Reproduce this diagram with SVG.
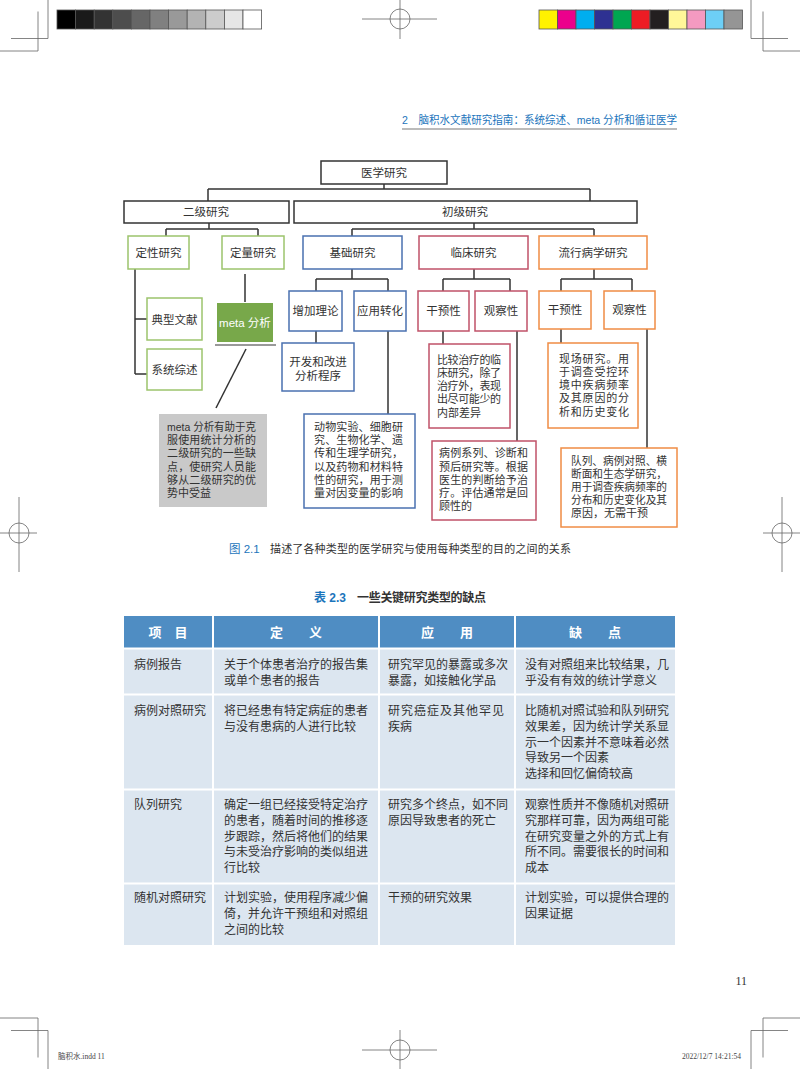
<svg xmlns="http://www.w3.org/2000/svg" width="800" height="1069" viewBox="0 0 800 1069">
<style>
.mk{stroke:#666;stroke-width:0.8;fill:none}
.t{font-family:"Liberation Sans","Noto Sans CJK SC",sans-serif;fill:#333;font-size:11.5px}
.s{font-size:11px}
.c{text-anchor:middle}
.bx{fill:#fff;stroke-width:1.5}
.k{stroke:#333}
.g{stroke:#9cc46c}
.b{stroke:#4a70b0}
.r{stroke:#c05268}
.o{stroke:#f08c44}
.ln{stroke:#333;stroke-width:1.5;fill:none}
.tb{font-family:"Liberation Serif","Noto Sans CJK SC",serif;fill:#333;font-size:12px}
.th{font-family:"Liberation Sans","Noto Sans CJK SC",sans-serif;fill:#fff;font-size:13px;font-weight:bold;text-anchor:middle}
.bl{fill:#1c75bc}
</style>
<rect width="800" height="1069" fill="#fff"/>
<!-- printer marks -->
<g id="marks">
<g stroke="#555" stroke-width="0.8">
<rect x="57" y="10" width="18.6" height="19" fill="#000"/>
<rect x="75.6" y="10" width="18.6" height="19" fill="#1a1a1a"/>
<rect x="94.2" y="10" width="18.6" height="19" fill="#333"/>
<rect x="112.8" y="10" width="18.6" height="19" fill="#4d4d4d"/>
<rect x="131.4" y="10" width="18.6" height="19" fill="#666"/>
<rect x="150" y="10" width="18.6" height="19" fill="#808080"/>
<rect x="168.6" y="10" width="18.6" height="19" fill="#999"/>
<rect x="187.2" y="10" width="18.6" height="19" fill="#b3b3b3"/>
<rect x="205.8" y="10" width="18.6" height="19" fill="#ccc"/>
<rect x="224.4" y="10" width="18.6" height="19" fill="#e6e6e6"/>
<rect x="243" y="10" width="18.6" height="19" fill="#fff"/>
<rect x="539" y="10" width="18.5" height="19" fill="#fff200"/>
<rect x="557.5" y="10" width="18.5" height="19" fill="#ec008c"/>
<rect x="576" y="10" width="18.5" height="19" fill="#00aeef"/>
<rect x="594.5" y="10" width="18.5" height="19" fill="#2e3192"/>
<rect x="613" y="10" width="18.5" height="19" fill="#00a651"/>
<rect x="631.5" y="10" width="18.5" height="19" fill="#ed1c24"/>
<rect x="650" y="10" width="18.5" height="19" fill="#231f20"/>
<rect x="668.5" y="10" width="18.5" height="19" fill="#fff799"/>
<rect x="687" y="10" width="18.5" height="19" fill="#f49ac1"/>
<rect x="705.5" y="10" width="18.5" height="19" fill="#6dcff6"/>
<rect x="724" y="10" width="18.5" height="19" fill="#959595"/>
</g>
<path class="mk" d="M48 0V38.5H11M38 11.5V51H0M751 0V38.5H788M763 11.5V51H800M0 1018H38V1057.5M11 1030.5H48V1069M800 1018H763V1057.5M788 1030.5H751V1069"/>
<path class="mk" d="M362 19H437M400 0V39M362 1050H437M400 1030V1069M0 533H37M19 497V572M763 533H800M782 497V572"/>
<circle class="mk" cx="400" cy="19" r="10"/>
<circle class="mk" cx="400" cy="1050" r="10"/>
<circle class="mk" cx="19" cy="533" r="10"/>
<circle class="mk" cx="782" cy="533" r="10"/>
</g>
<!-- running head -->
<g id="header">
<text x="402" y="124" class="t bl" style="font-size:11px;fill:#1c75bc" textLength="275" lengthAdjust="spacingAndGlyphs">2　脑积水文献研究指南：系统综述、meta 分析和循证医学</text>
<line x1="402" y1="129" x2="677" y2="129" stroke="#bbb" stroke-width="2"/>
</g>
<!-- connectors -->
<g id="connectors">
<path class="ln" d="M384 184V189M208 189H590M208 189V201M590 189V201"/>
<path class="ln" d="M209 223V229M166 229H258M166 229V236M258 229V236"/>
<path class="ln" d="M474 223V229M352 229H594M352 229V236M594 229V236"/>
<path class="ln" d="M135 269V374M135 319H147M135 374H147"/>
<path class="ln" d="M245 274V302"/>
<path class="ln" d="M246 349L216 408"/>
<path class="ln" d="M352 269V279M316 279H388M316 279V291M388 279V291M316 331V343M388 331V414"/>
<path class="ln" d="M474 269V279M443 279H510M443 279V291M510 279V291M443 331V344M517 331V441"/>
<path class="ln" d="M594 269V279M561 279H632M561 279V291M632 279V291M561 329V343M647 329V448"/>
</g>
<!-- nodes -->
<g id="n-medical"><rect class="bx k" x="321" y="161" width="126" height="23"/><text class="t c" x="384" y="176.5">医学研究</text></g>
<g id="n-secondary"><rect class="bx k" x="124" y="201" width="165" height="22"/><text class="t c" x="206" y="216">二级研究</text></g>
<g id="n-primary"><rect class="bx k" x="294" y="201" width="343" height="22"/><text class="t c" x="465" y="216">初级研究</text></g>
<g id="n-qual"><rect class="bx g" x="128" y="236" width="61" height="33"/><text class="t c" x="158.5" y="257">定性研究</text></g>
<g id="n-quant"><rect class="bx g" x="222" y="236" width="62" height="33"/><text class="t c" x="253" y="257">定量研究</text></g>
<g id="n-basic"><rect class="bx b" x="303" y="236" width="99" height="33"/><text class="t c" x="352.5" y="257">基础研究</text></g>
<g id="n-clinical"><rect class="bx r" x="419" y="236" width="109" height="33"/><text class="t c" x="473.5" y="257">临床研究</text></g>
<g id="n-epi"><rect class="bx o" x="539" y="236" width="108" height="33"/><text class="t c" x="593" y="257">流行病学研究</text></g>
<g id="n-typical"><rect class="bx g" x="147" y="298" width="55" height="42"/><text class="t c" x="174.5" y="323.5">典型文献</text></g>
<g id="n-sysrev"><rect class="bx g" x="147" y="349" width="55" height="41"/><text class="t c" x="174.5" y="374">系统综述</text></g>
<g id="n-meta"><rect x="217" y="303" width="56" height="39" fill="#78a84a"/><text class="t c" x="245" y="326.5" style="fill:#fff">meta 分析</text><line x1="215" y1="345" x2="276" y2="345" stroke="#999" stroke-width="2"/></g>
<g id="n-metanote"><rect x="159" y="414" width="108" height="93" fill="#c9c9c9"/>
<text class="t s" x="167" y="431" textLength="89" lengthAdjust="spacingAndGlyphs">meta 分析有助于克</text>
<text class="t s" x="167" y="444" textLength="89" lengthAdjust="spacing">服使用统计分析的</text>
<text class="t s" x="167" y="457" textLength="89" lengthAdjust="spacing">二级研究的一些缺</text>
<text class="t s" x="167" y="471" textLength="89" lengthAdjust="spacing">点，使研究人员能</text>
<text class="t s" x="167" y="484" textLength="89" lengthAdjust="spacing">够从二级研究的优</text>
<text class="t s" x="167" y="497">势中受益</text></g>
<g id="n-theory"><rect class="bx b" x="289" y="291" width="53" height="40"/><text class="t c" x="315.5" y="315">增加理论</text></g>
<g id="n-applied"><rect class="bx b" x="354" y="291" width="52" height="40"/><text class="t c" x="380" y="315">应用转化</text></g>
<g id="n-develop"><rect class="bx b" x="282" y="343" width="72" height="48"/><text class="t c" x="318" y="366">开发和改进</text><text class="t c" x="318" y="380">分析程序</text></g>
<g id="n-basicnote"><rect class="bx b" x="304" y="414" width="111" height="94"/>
<text class="t s" x="314" y="431" textLength="89" lengthAdjust="spacing">动物实验、细胞研</text>
<text class="t s" x="314" y="444" textLength="89" lengthAdjust="spacing">究、生物化学、遗</text>
<text class="t s" x="314" y="457" textLength="89" lengthAdjust="spacing">传和生理学研究，</text>
<text class="t s" x="314" y="471" textLength="89" lengthAdjust="spacing">以及药物和材料特</text>
<text class="t s" x="314" y="484" textLength="89" lengthAdjust="spacing">性的研究，用于测</text>
<text class="t s" x="314" y="497" textLength="89" lengthAdjust="spacing">量对因变量的影响</text></g>
<g id="n-cl-int"><rect class="bx r" x="418" y="291" width="51" height="40"/><text class="t c" x="443.5" y="315">干预性</text></g>
<g id="n-cl-obs"><rect class="bx r" x="475" y="291" width="52" height="40"/><text class="t c" x="501" y="315">观察性</text></g>
<g id="n-cl-intnote"><rect class="bx r" x="429" y="344" width="81" height="84"/>
<text class="t s" x="437" y="364" textLength="64" lengthAdjust="spacing">比较治疗的临</text>
<text class="t s" x="437" y="377" textLength="64" lengthAdjust="spacing">床研究，除了</text>
<text class="t s" x="437" y="390" textLength="64" lengthAdjust="spacing">治疗外，表现</text>
<text class="t s" x="437" y="403" textLength="64" lengthAdjust="spacing">出尽可能少的</text>
<text class="t s" x="437" y="417">内部差异</text></g>
<g id="n-cl-obsnote"><rect class="bx r" x="432" y="441" width="104" height="79"/>
<text class="t s" x="439" y="457" textLength="89" lengthAdjust="spacing">病例系列、诊断和</text>
<text class="t s" x="439" y="471" textLength="89" lengthAdjust="spacing">预后研究等。根据</text>
<text class="t s" x="439" y="484" textLength="89" lengthAdjust="spacing">医生的判断给予治</text>
<text class="t s" x="439" y="497" textLength="89" lengthAdjust="spacing">疗。评估通常是回</text>
<text class="t s" x="439" y="510">顾性的</text></g>
<g id="n-ep-int"><rect class="bx o" x="539" y="291" width="52" height="38"/><text class="t c" x="565" y="314">干预性</text></g>
<g id="n-ep-obs"><rect class="bx o" x="604" y="291" width="51" height="38"/><text class="t c" x="629.5" y="314">观察性</text></g>
<g id="n-ep-intnote"><rect class="bx o" x="548" y="343" width="90" height="85"/>
<text class="t s" x="559" y="363" textLength="70" lengthAdjust="spacing">现场研究。用</text>
<text class="t s" x="559" y="376" textLength="70" lengthAdjust="spacing">于调查受控环</text>
<text class="t s" x="559" y="389" textLength="70" lengthAdjust="spacing">境中疾病频率</text>
<text class="t s" x="559" y="402" textLength="70" lengthAdjust="spacing">及其原因的分</text>
<text class="t s" x="559" y="416" textLength="70" lengthAdjust="spacing">析和历史变化</text></g>
<g id="n-ep-obsnote"><rect class="bx o" x="561" y="448" width="116" height="79"/>
<text class="t s" x="571" y="465" textLength="96" lengthAdjust="spacingAndGlyphs">队列、病例对照、横</text>
<text class="t s" x="571" y="478" textLength="96" lengthAdjust="spacingAndGlyphs">断面和生态学研究，</text>
<text class="t s" x="571" y="491" textLength="96" lengthAdjust="spacingAndGlyphs">用于调查疾病频率的</text>
<text class="t s" x="571" y="504" textLength="96" lengthAdjust="spacingAndGlyphs">分布和历史变化及其</text>
<text class="t s" x="571" y="517">原因，无需干预</text></g>
<!-- captions -->
<g id="caption">
<text class="t" x="229" y="553" style="font-size:11.5px;fill:#1c75bc">图 2.1</text>
<text class="t" x="270" y="553" style="font-size:11px" textLength="301" lengthAdjust="spacing">描述了各种类型的医学研究与使用每种类型的目的之间的关系</text>
<text class="t" x="314" y="602" style="font-size:12px;fill:#1c75bc;font-weight:bold">表 2.3</text>
<text class="t" x="357" y="602" style="font-size:12px;font-weight:bold" textLength="129" lengthAdjust="spacing">一些关键研究类型的缺点</text>
</g>
<!-- table -->
<g id="table">
<rect x="124" y="616" width="551" height="32" fill="#4f8dc3"/>
<rect x="124" y="648" width="551" height="297" fill="#dce6f0"/>
<g stroke="#fff" stroke-width="2">
<line x1="213" y1="616" x2="213" y2="945"/>
<line x1="379" y1="616" x2="379" y2="945"/>
<line x1="515" y1="616" x2="515" y2="945"/>
<line x1="124" y1="648.5" x2="675" y2="648.5"/>
<line x1="124" y1="694.5" x2="675" y2="694.5"/>
<line x1="124" y1="789.5" x2="675" y2="789.5"/>
<line x1="124" y1="883.5" x2="675" y2="883.5"/>
</g>
<text class="th" x="168" y="637">项　目</text>
<text class="th" x="296" y="637">定　　义</text>
<text class="th" x="447" y="637">应　　用</text>
<text class="th" x="595" y="637">缺　　点</text>
<g class="tb">
<text x="134" y="669">病例报告</text>
<text x="224" y="669">关于个体患者治疗的报告集</text>
<text x="224" y="685">或单个患者的报告</text>
<text x="388" y="669">研究罕见的暴露或多次</text>
<text x="388" y="685">暴露，如接触化学品</text>
<text x="525" y="669">没有对照组来比较结果，几</text>
<text x="525" y="685">乎没有有效的统计学意义</text>

<text x="134" y="715">病例对照研究</text>
<text x="224" y="715">将已经患有特定病症的患者</text>
<text x="224" y="731">与没有患病的人进行比较</text>
<text x="388" y="715" textLength="116" lengthAdjust="spacing">研究癌症及其他罕见</text>
<text x="388" y="731">疾病</text>
<text x="525" y="715">比随机对照试验和队列研究</text>
<text x="525" y="731">效果差，因为统计学关系显</text>
<text x="525" y="747">示一个因素并不意味着必然</text>
<text x="525" y="762">导致另一个因素</text>
<text x="525" y="778">选择和回忆偏倚较高</text>

<text x="134" y="809">队列研究</text>
<text x="224" y="809">确定一组已经接受特定治疗</text>
<text x="224" y="825">的患者，随着时间的推移逐</text>
<text x="224" y="841">步跟踪，然后将他们的结果</text>
<text x="224" y="856">与未受治疗影响的类似组进</text>
<text x="224" y="872">行比较</text>
<text x="388" y="809">研究多个终点，如不同</text>
<text x="388" y="825">原因导致患者的死亡</text>
<text x="525" y="809">观察性质并不像随机对照研</text>
<text x="525" y="825">究那样可靠，因为两组可能</text>
<text x="525" y="841">在研究变量之外的方式上有</text>
<text x="525" y="856">所不同。需要很长的时间和</text>
<text x="525" y="872">成本</text>

<text x="134" y="902">随机对照研究</text>
<text x="224" y="902">计划实验，使用程序减少偏</text>
<text x="224" y="918">倚，并允许干预组和对照组</text>
<text x="224" y="934">之间的比较</text>
<text x="388" y="902">干预的研究效果</text>
<text x="525" y="902">计划实验，可以提供合理的</text>
<text x="525" y="918">因果证据</text>
</g>
</g>
<!-- footer -->
<g id="footer">
<text x="747" y="985" style="font-family:'Liberation Serif',serif;font-size:12px;fill:#333;text-anchor:end">11</text>
<text x="58" y="1059" style="font-family:'Liberation Serif','Noto Sans CJK SC',serif;font-size:7.5px;fill:#444">脑积水.indd   11</text>
<text x="741" y="1059" style="font-family:'Liberation Serif',serif;font-size:7.5px;fill:#444;text-anchor:end">2022/12/7   14:21:54</text>
</g>
</svg>
